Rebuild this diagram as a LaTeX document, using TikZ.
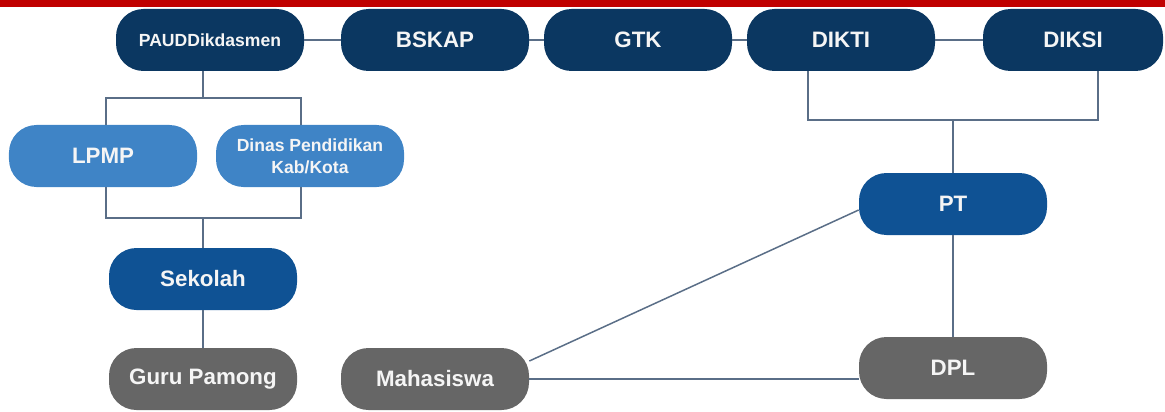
\documentclass[tikz,border=0pt]{standalone}
\usepackage{fontspec}
\setmainfont{Liberation Sans}
\usepackage{tikz}

\definecolor{navy}{HTML}{0B3761}
\definecolor{midblue}{HTML}{0F5294}
\definecolor{lightblue}{HTML}{3F84C6}
\definecolor{darkgray}{HTML}{666666}
\definecolor{linkgray}{HTML}{5A6E87}
\definecolor{barred}{HTML}{C00000}

\tikzset{
  unit/.style={rounded corners=5.5mm, minimum width=37.6mm, minimum height=12.4mm,
    inner sep=0pt, text=white!92!gray, align=center,
    font=\bfseries\fontsize{12.7}{15}\selectfont},
  small/.style={font=\bfseries\fontsize{10}{12.5}\selectfont},
  pusat/.style={unit, fill=navy},
  daerah/.style={unit, fill=lightblue},
  satuan/.style={unit, fill=midblue},
  orang/.style={unit, fill=darkgray},
  link/.style={draw=linkgray, line width=0.3mm}
}

\begin{document}
\begin{tikzpicture}[x=0.2mm, y=-0.2mm]
    \useasboundingbox (0,0) rectangle (1165,412);
    \fill [barred] (0,0) rectangle (1165,7);

    \node [pusat, small] (paud) at (210,40) {PAUDDikdasmen};
    \node [pusat] (bskap) at (435,40) {BSKAP};
    \node [pusat] (gtk) at (638,40) {GTK};
    \node [pusat] (dikti) at (841,40) {DIKTI};
    \node [pusat, minimum width=36mm] (diksi) at (1073,40) {DIKSI};
    \node [daerah] (lpmp) at (103,156) {LPMP};
    \node [daerah, small] (dinas) at (310,156) {Dinas Pendidikan\\Kab/Kota};
    \node [satuan] (sekolah) at (203,279) {Sekolah};
    \node [satuan] (pt) at (953,204) {PT};
    \node [orang] (guru) at (203,379) {Guru Pamong};
    \node [orang] (mhs) at (435,379) {Mahasiswa};
    \node [orang] (dpl) at (953,368) {DPL};

    \coordinate (j1) at (203,98);
    \coordinate (b1l) at (106,98);
    \coordinate (b1r) at (301,98);
    \coordinate (j2) at (203,218);
    \coordinate (b2l) at (106,218);
    \coordinate (b2r) at (301,218);
    \coordinate (j3) at (953,120);
    \coordinate (b3l) at (808,120);
    \coordinate (b3r) at (1098,120);

    \draw [link] (paud) -- (bskap) -- (gtk) -- (dikti) -- (diksi);
    \draw [link] (j1 |- paud.south) -- (j1);
    \draw [link] (b1l |- lpmp.north) -- (b1l) -- (b1r) -- (b1r |- dinas.north);
    \draw [link] (b2l |- lpmp.south) -- (b2l) -- (b2r) -- (b2r |- dinas.south);
    \draw [link] (j2) -- (j2 |- sekolah.north);
    \draw [link] (sekolah) -- (guru);
    \draw [link] (b3l |- dikti.south) -- (b3l) -- (b3r) -- (b3r |- diksi.south);
    \draw [link] (j3) -- (pt);
    \draw [link] (pt) -- (dpl);
    \draw [link] ([yshift=3.6mm] mhs.east) -- ([yshift=-1.2mm] pt.west);
    \draw [link] (mhs.east) -- (mhs.east -| dpl.west);
\end{tikzpicture}
\end{document}
